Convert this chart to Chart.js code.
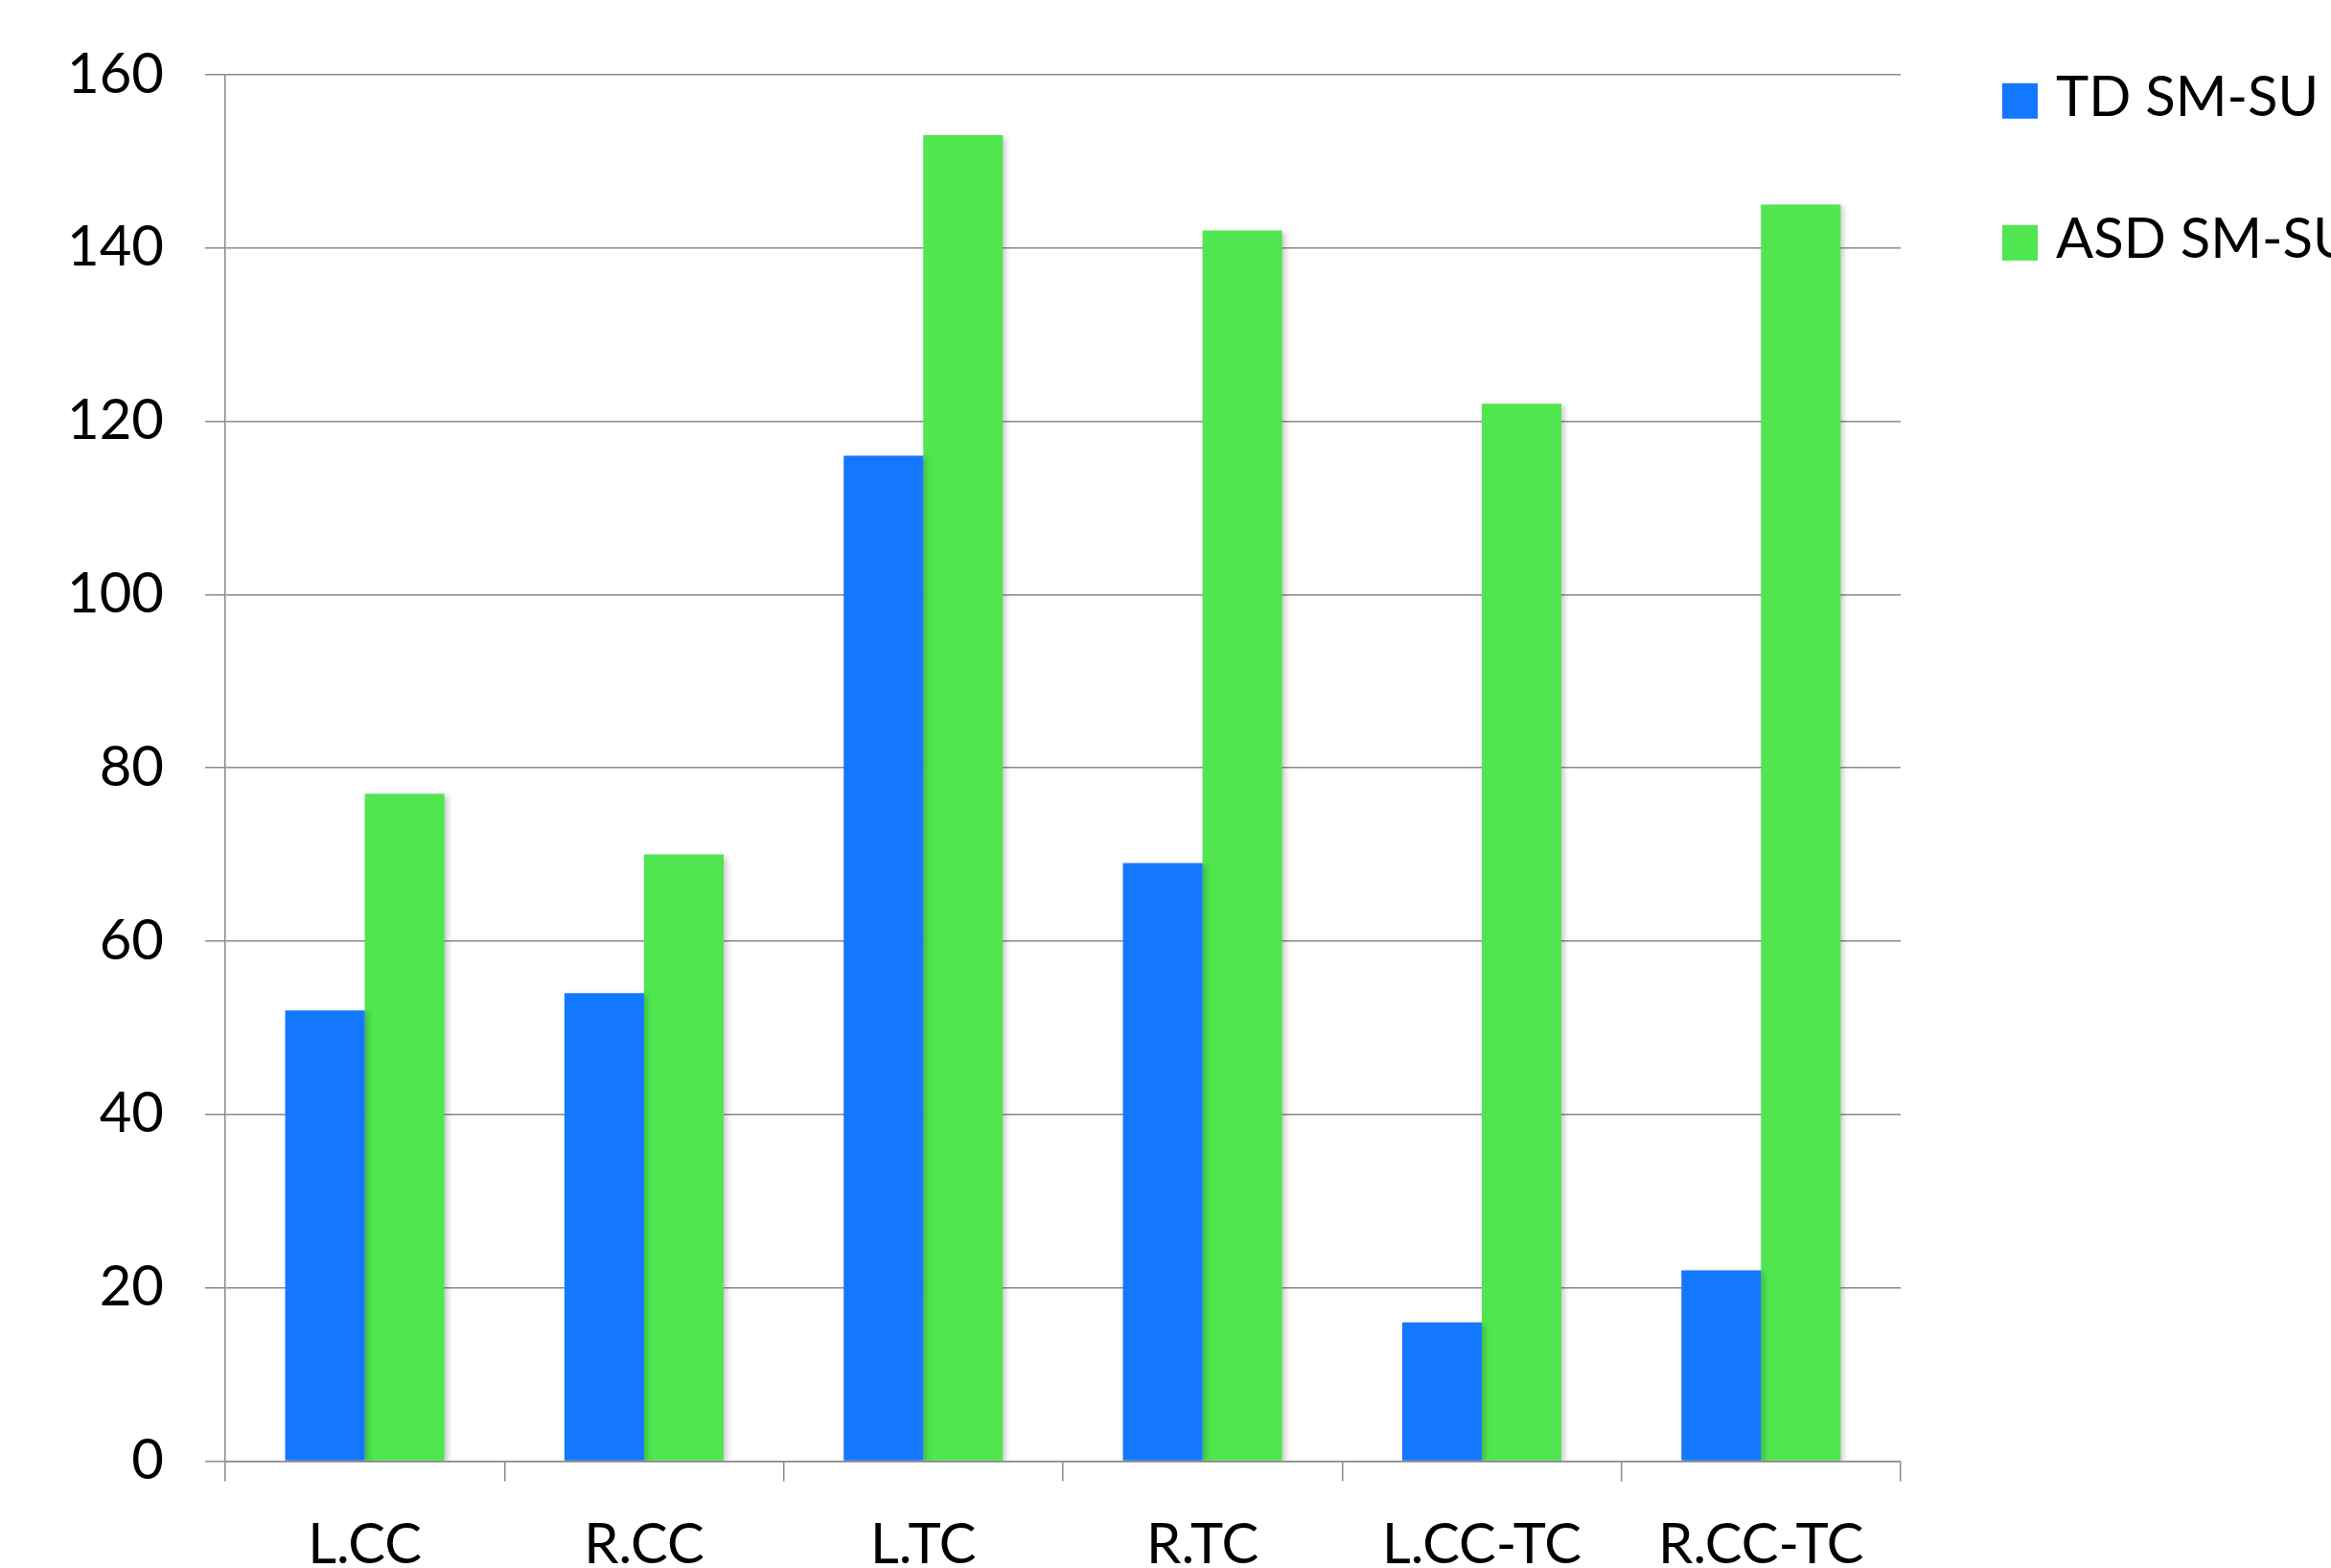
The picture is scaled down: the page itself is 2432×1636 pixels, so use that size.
<!DOCTYPE html>
<html lang="en">
<head>
    <meta charset="UTF-8">
    <title>SM-SU by region</title>
    <script src="https://cdn.jsdelivr.net/npm/chart.js"></script>
    <style>
        html, body { margin: 0; padding: 0; background: #fff; overflow: hidden; }
        #wrap { width: 2432px; height: 1636px; overflow: hidden; }
    </style>
</head>
<body>
<div id="wrap">
    <canvas id="smsuChart" width="2432" height="1700"></canvas>
</div>

<script>
        const regions = ['L.CC', 'R.CC', 'L.TC', 'R.TC', 'L.CC-TC', 'R.CC-TC'];
        const tdValues = [52, 54, 116, 69, 16, 22];
        const asdValues = [77, 70, 153, 142, 122, 145];
        const seriesNames = ['TD SM-SU', 'ASD SM-SU'];

        const fontFamily = 'Lato, "Open Sans", sans-serif';
        const gridColor = '#8a8a8a';

        // soft drop shadow behind the bars
        const barShadow = {
            id: 'barShadow',
            beforeDatasetsDraw(chart) {
                const ctx = chart.ctx;
                ctx.save();
                ctx.shadowColor = 'rgba(0, 0, 0, 0.22)';
                ctx.shadowBlur = 6;
                ctx.shadowOffsetX = 3;
                ctx.shadowOffsetY = 2;
            },
            afterDatasetsDraw(chart) {
                chart.ctx.restore();
            }
        };

        // legend to the right of the plot, spaced like the original
        const sideLegend = {
            id: 'sideLegend',
            afterDraw(chart) {
                const ctx = chart.ctx;
                const area = chart.chartArea;
                ctx.save();
                ctx.font = '58px ' + fontFamily;
                ctx.textBaseline = 'middle';
                chart.data.datasets.forEach((ds, i) => {
                    const x = area.right + 106;
                    const y = area.top + 9 + i * 148;
                    ctx.fillStyle = ds.backgroundColor;
                    ctx.fillRect(x, y, 37, 37);
                    ctx.fillStyle = '#000';
                    ctx.fillText(ds.label, x + 56, y + 15);
                });
                ctx.restore();
            }
        };

        const ctx = document.getElementById('smsuChart').getContext('2d');

        let smsuChart = new Chart(ctx, {
            type: 'bar',
            data: {
                labels: regions,
                datasets: [{
                    label: seriesNames[0],
                    data: tdValues,
                    backgroundColor: '#1378ff',
                    borderWidth: 0
                }, {
                    label: seriesNames[1],
                    data: asdValues,
                    backgroundColor: '#50e650',
                    borderWidth: 0
                }]
            },
            options: {
                responsive: false,
                animation: false,
                categoryPercentage: 0.57,
                barPercentage: 1.0,
                layout: {
                    padding: { left: 27, top: 37, right: 449, bottom: 21 }
                },
                plugins: {
                    legend: { display: false },
                    tooltip: { enabled: false }
                },
                scales: {
                    x: {
                        grid: {
                            offset: true,
                            drawOnChartArea: false,
                            drawTicks: true,
                            tickLength: 21,
                            color: gridColor,
                            lineWidth: 1.5
                        },
                        border: { color: gridColor, width: 1.5 },
                        ticks: {
                            color: '#000',
                            padding: 32,
                            maxRotation: 0,
                            font: { family: fontFamily, size: 58 }
                        }
                    },
                    y: {
                        min: 0,
                        max: 160,
                        grid: {
                            color: gridColor,
                            lineWidth: 1.5,
                            tickLength: 21
                        },
                        border: { color: gridColor, width: 1.5 },
                        ticks: {
                            stepSize: 20,
                            color: '#000',
                            padding: 43,
                            font: { family: fontFamily, size: 58 }
                        }
                    }
                }
            },
            plugins: [barShadow, sideLegend]
        });
    </script>
</body>
</html>
